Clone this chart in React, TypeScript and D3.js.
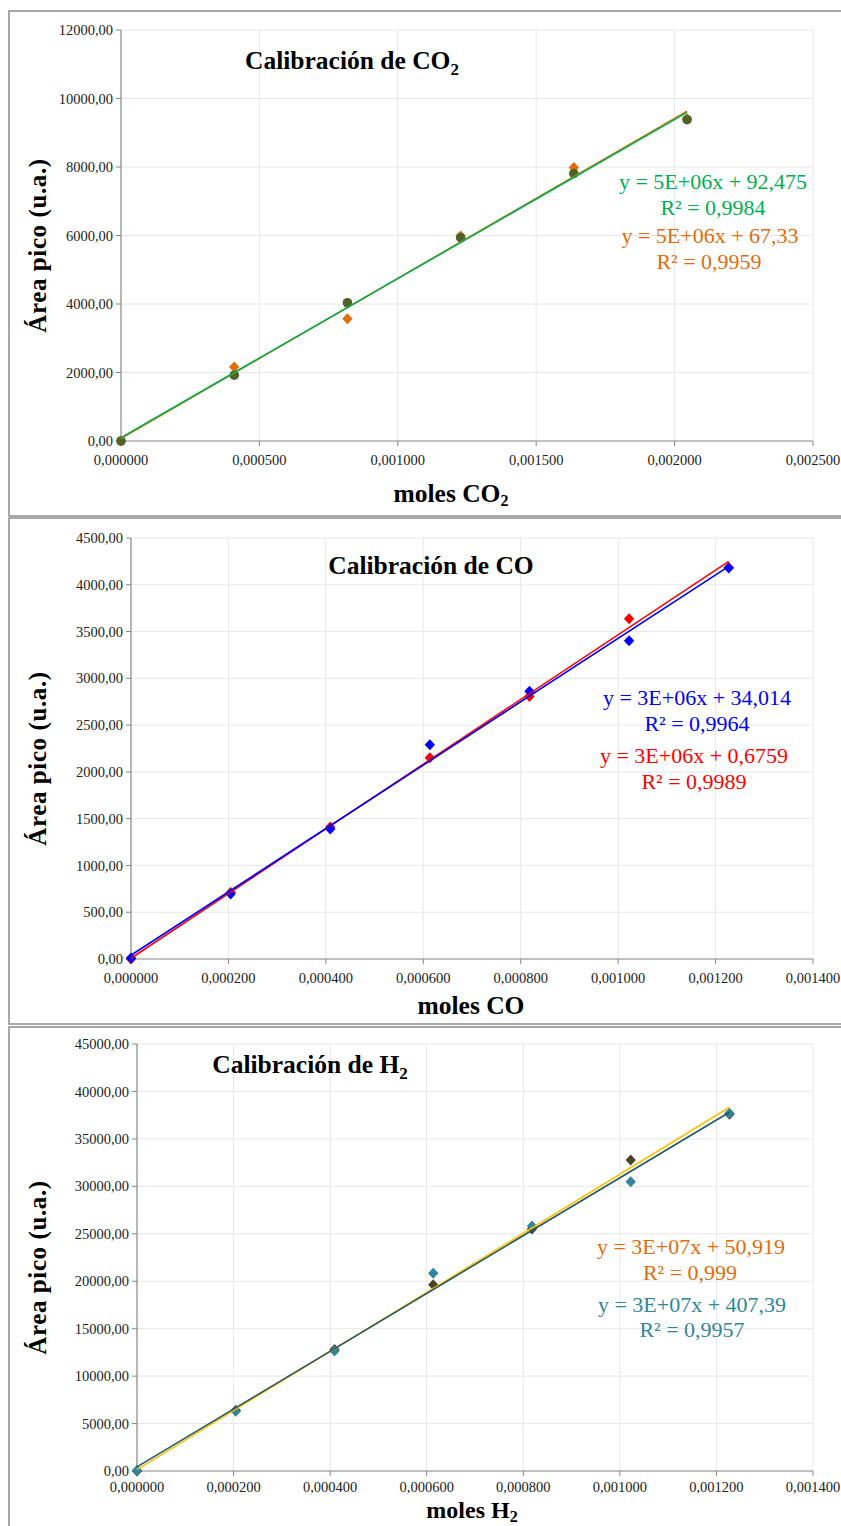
import React from "react";
import * as d3 from "d3";

// ---- datos ----
const co2Moles = [0, 0.000409, 0.000818, 0.001227, 0.001636, 0.002045];
const co2AreaCirc = [0, 1921, 4036, 5937, 7809, 9381];
const co2AreaDiam = [0, 2163, 3570, 5986, 7984, 9410];
const co2YTicks = [0, 2000, 4000, 6000, 8000, 10000, 12000];
const co2XTicks = [0, 0.0005, 0.001, 0.0015, 0.002, 0.0025];

const coMoles = [0, 0.0002045, 0.000409, 0.0006135, 0.000818, 0.0010225, 0.001227];
const coAreaBlue = [10, 695, 1389, 2291, 2861, 3402, 4179];
const coAreaRed = [0, 712, 1411, 2152, 2807, 3637, 4185];
const coYTicks = [0, 500, 1000, 1500, 2000, 2500, 3000, 3500, 4000, 4500];
const coXTicks = [0, 0.0002, 0.0004, 0.0006, 0.0008, 0.001, 0.0012, 0.0014];

const h2Moles = [0, 0.0002045, 0.000409, 0.0006135, 0.000818, 0.0010225, 0.001227];
const h2AreaTeal = [70, 6294, 12658, 20851, 25809, 30485, 37693];
const h2AreaBrown = [0, 6400, 12800, 19620, 25492, 32771, 37600];
const h2YTicks = [0, 5000, 10000, 15000, 20000, 25000, 30000, 35000, 40000, 45000];
const h2XTicks = coXTicks;

const font = "'Liberation Serif', 'Times New Roman', serif";
const comma = (s: string) => s.replace(".", ",");

function fitLine(xs: number[], ys: number[]) {
  const mx = d3.mean(xs)!;
  const my = d3.mean(ys)!;
  const sxy = d3.sum(xs, (x, i) => (x - mx) * (ys[i] - my));
  const sxx = d3.sum(xs, x => (x - mx) ** 2);
  const b = sxy / sxx;
  return {a: my - b * mx, b};
}

const diamond = "M0,-5.5L5.2,0L0,5.5L-5.2,0Z";

function Panel({cfg}: {cfg: any}) {
  const {box, plot, xTicks, yTicks, series, title, titleSub, titleX, titleY,
    xTitle, xTitleSub, xTitleX, xTitleY, xTitleSize, xLabelDy, labels} = cfg;
  const x = d3.scaleLinear().domain([xTicks[0], xTicks[xTicks.length - 1]])
    .range([plot.left, plot.right]);
  const y = d3.scaleLinear().domain([yTicks[0], yTicks[yTicks.length - 1]])
    .range([plot.bottom, plot.top]);
  const line = d3.line<number>().x(d => x(d[0])).y(d => y(d[1]));

  return (
    <g>
      <rect x={box.x} y={box.y} width={box.w} height={box.h}
        fill="white" stroke="#8c8c8c" strokeWidth={1.5}/>
      {/* rejilla */}
      {yTicks.slice(1).map((t: number) => (
        <line key={"gy" + t} x1={plot.left} x2={plot.right} y1={y(t)} y2={y(t)}
          stroke="#e8e8e8" strokeWidth={1}/>
      ))}
      {xTicks.slice(1).map((t: number) => (
        <line key={"gx" + t} x1={x(t)} x2={x(t)} y1={plot.top} y2={plot.bottom}
          stroke="#e8e8e8" strokeWidth={1}/>
      ))}
      {/* ejes */}
      <line x1={plot.left} x2={plot.left} y1={plot.top} y2={plot.bottom} stroke="#868686" strokeWidth={1.2}/>
      <line x1={plot.left} x2={plot.right} y1={plot.bottom} y2={plot.bottom} stroke="#868686" strokeWidth={1.2}/>
      {yTicks.map((t: number) => (
        <g key={"yt" + t}>
          <line x1={plot.left - 5} x2={plot.left} y1={y(t)} y2={y(t)} stroke="#868686"/>
          <text x={plot.left - 8} y={y(t)} dy="0.35em" textAnchor="end"
            fontFamily={font} fontSize={14.5} fill="#222">{comma(d3.format(".2f")(t))}</text>
        </g>
      ))}
      {xTicks.map((t: number) => (
        <g key={"xt" + t}>
          <line x1={x(t)} x2={x(t)} y1={plot.bottom} y2={plot.bottom + 5} stroke="#868686"/>
          <text x={x(t)} y={plot.bottom + (xLabelDy ?? 24)} textAnchor="middle"
            fontFamily={font} fontSize={14.5} fill="#222">{comma(d3.format(".6f")(t))}</text>
        </g>
      ))}
      {/* puntos */}
      {series.map((s: any, si: number) => (
        <g key={"s" + si}>
          {s.xs.map((xv: number, i: number) => s.shape === "circle"
            ? <circle key={i} cx={x(xv)} cy={y(s.ys[i])} r={4.8} fill={s.color}/>
            : <path key={i} d={diamond} transform={`translate(${x(xv)},${y(s.ys[i])})`} fill={s.color}/>)}
        </g>
      ))}
      {/* líneas de tendencia */}
      {series.map((s: any, si: number) => {
        const f = fitLine(s.xs, s.ys);
        const x0 = d3.min(s.xs as number[])!;
        const x1 = d3.max(s.xs as number[])!;
        return <path key={"l" + si} d={line([[x0, f.a + f.b * x0], [x1, f.a + f.b * x1]])!}
          fill="none" stroke={s.lineColor} strokeWidth={1.6}/>;
      })}
      {/* etiquetas de ecuación */}
      {labels.map((l: any, i: number) => (
        <text key={"lab" + i} x={l.x} y={l.y} textAnchor="middle" fontFamily={font}
          fontSize={22} fill={l.color}>{l.text}</text>
      ))}
      {/* título */}
      <text x={titleX} y={titleY} textAnchor="middle" fontFamily={font} fontWeight="bold"
        fontSize={25.5} fill="#000">
        {title}{titleSub && <tspan fontSize={17} dy={6}>{titleSub}</tspan>}
      </text>
      <text x={xTitleX} y={xTitleY} textAnchor="middle" fontFamily={font} fontWeight="bold"
        fontSize={xTitleSize ?? 25.5} fill="#000">
        {xTitle}{xTitleSub && <tspan fontSize={16} dy={4}>{xTitleSub}</tspan>}
      </text>
      <text transform={`translate(${46},${(plot.top + plot.bottom) / 2 + 10}) rotate(-90)`}
        textAnchor="middle" fontFamily={font} fontWeight="bold" fontSize={25}
        letterSpacing={0.6} fill="#000">Área pico (u.a.)</text>
    </g>
  );
}

const panels = [
  {
    box: {x: 9, y: 11, w: 845, h: 505},
    plot: {left: 121, right: 813, top: 30, bottom: 441},
    xTicks: co2XTicks, yTicks: co2YTicks,
    series: [
      {xs: co2Moles, ys: co2AreaDiam, shape: "diamond", color: "#E46C0A", lineColor: "#E46C0A"},
      {xs: co2Moles, ys: co2AreaCirc, shape: "circle", color: "#4F6228", lineColor: "#00B050"},
    ],
    title: "Calibración de CO", titleSub: "2", titleX: 352, titleY: 69,
    xTitle: "moles CO", xTitleSub: "2", xTitleX: 451, xTitleY: 502,
    labels: [
      {text: "y = 5E+06x + 92,475", x: 713, y: 189, color: "#00B050"},
      {text: "R² = 0,9984", x: 713, y: 215, color: "#00B050"},
      {text: "y = 5E+06x + 67,33", x: 710, y: 243, color: "#E46C0A"},
      {text: "R² = 0,9959", x: 709, y: 269, color: "#E46C0A"},
    ],
  },
  {
    box: {x: 9, y: 518, w: 845, h: 506},
    plot: {left: 131, right: 813, top: 538, bottom: 959},
    xTicks: coXTicks, yTicks: coYTicks,
    series: [
      {xs: coMoles, ys: coAreaRed, shape: "diamond", color: "#FF0000", lineColor: "#FF0000"},
      {xs: coMoles, ys: coAreaBlue, shape: "diamond", color: "#0000FF", lineColor: "#0000FF"},
    ],
    title: "Calibración de CO", titleSub: null, titleX: 431, titleY: 574,
    xTitle: "moles CO", xTitleSub: null, xTitleX: 471, xTitleY: 1014,
    labels: [
      {text: "y = 3E+06x + 34,014", x: 697, y: 705, color: "#0000FF"},
      {text: "R² = 0,9964", x: 697, y: 731, color: "#0000FF"},
      {text: "y = 3E+06x + 0,6759", x: 694, y: 763, color: "#FF0000"},
      {text: "R² = 0,9989", x: 694, y: 789, color: "#FF0000"},
    ],
  },
  {
    box: {x: 9, y: 1027, w: 845, h: 510},
    plot: {left: 137, right: 813, top: 1044, bottom: 1471},
    xTicks: h2XTicks, yTicks: h2YTicks,
    series: [
      {xs: h2Moles, ys: h2AreaBrown, shape: "diamond", color: "#4A452A", lineColor: "#FFC000"},
      {xs: h2Moles, ys: h2AreaTeal, shape: "diamond", color: "#31859C", lineColor: "#215968"},
    ],
    title: "Calibración de H", titleSub: "2", titleX: 310, titleY: 1073,
    xTitle: "moles H", xTitleSub: "2", xTitleX: 472, xTitleY: 1518, xTitleSize: 24, xLabelDy: 21,
    labels: [
      {text: "y = 3E+07x + 50,919", x: 691, y: 1254, color: "#E46C0A"},
      {text: "R² = 0,999", x: 690, y: 1280, color: "#E46C0A"},
      {text: "y = 3E+07x + 407,39", x: 692, y: 1312, color: "#31859C"},
      {text: "R² = 0,9957", x: 692, y: 1337, color: "#31859C"},
    ],
  },
];

export default function App() {
  return (
    <svg width={841} height={1526} style={{position: "absolute", left: 0, top: 0, background: "white"}}>
      <rect width={841} height={1526} fill="white"/>
      {panels.map((p, i) => <Panel key={i} cfg={p}/>)}
    </svg>
  );
}
